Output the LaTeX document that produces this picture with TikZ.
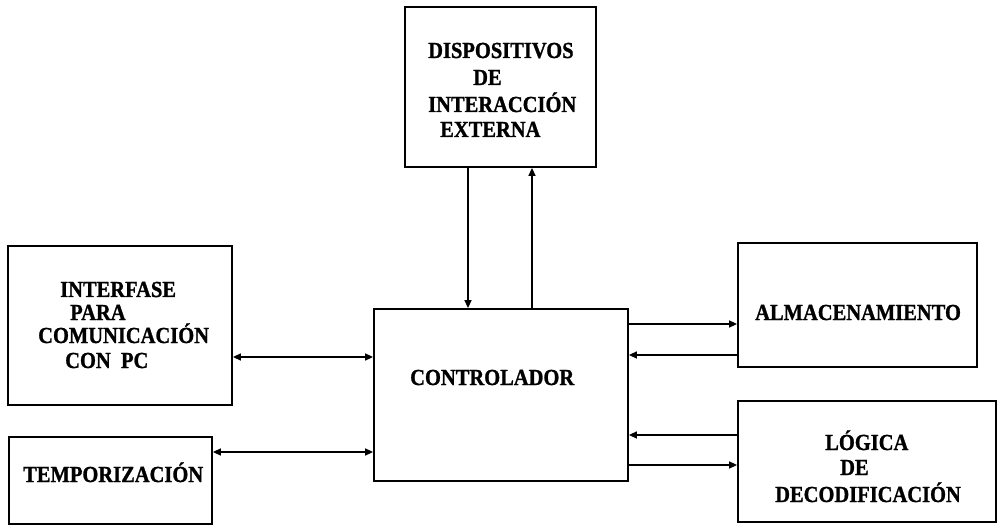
\documentclass[tikz,border=0pt]{standalone}
\usepackage{fontspec}
\setmainfont{Liberation Serif}
\newfontfamily\lblfont{Liberation Serif Bold}[FakeBold=1.2]
\usetikzlibrary{arrows.meta}
\tikzset{
  blk/.style={draw, line width=1.8pt, rectangle, inner sep=0pt},
  lbl/.style={anchor=base west, inner sep=0pt, font=\fontsize{20.5}{24}\selectfont\lblfont},
  conn/.style={line width=1.5pt, -{Triangle[length=8pt,width=7pt]}},
  dconn/.style={line width=1.5pt, {Triangle[length=8pt,width=7pt]}-{Triangle[length=8pt,width=7pt]}}
}
\newcommand{\tall}[1]{\scalebox{1}[1.12]{#1}}
\begin{document}
\begin{tikzpicture}[x=1pt,y=-1pt]
\useasboundingbox (0,0) rectangle (1000,526);
% boxes
\node[blk, minimum width=191pt, minimum height=160pt] (disp) at (500.5,87) {};
\node[blk, minimum width=224pt, minimum height=159pt] (interf) at (8+112,246+79.5) {};
\node[blk, minimum width=203pt, minimum height=87pt] (temp) at (9+101.5,437+43.5) {};
\node[blk, minimum width=254pt, minimum height=172pt] (ctrl) at (501,395) {};
\node[blk, minimum width=239pt, minimum height=124pt] (alm) at (738+119.5,243+62) {};
\node[blk, minimum width=258pt, minimum height=121pt] (logi) at (738+129,401+60.5) {};
% texts
\node[lbl] (t1a) at (428,58) {\tall{DISPOSITIVOS}};
\node[lbl] (t1b) at (473,85) {\tall{DE}};
\node[lbl] (t1c) at (428,112) {\tall{INTERACCIÓN}};
\node[lbl] (t1d) at (440,137) {\tall{EXTERNA}};
\node[lbl] (t2a) at (60,297) {\tall{INTERFASE}};
\node[lbl] (t2b) at (70,320) {\tall{PARA}};
\node[lbl] (t2c) at (38,343) {\tall{COMUNICACIÓN}};
\node[lbl] (t2d) at (65,368) {\tall{CON\ \ PC}};
\node[lbl] (t3) at (23,482) {\tall{TEMPORIZACIÓN}};
\node[lbl] (t4) at (410,385) {\tall{CONTROLADOR}};
\node[lbl] (t5) at (755,320) {\tall{ALMACENAMIENTO}};
\node[lbl] (t6a) at (825,450) {\tall{LÓGICA}};
\node[lbl] (t6b) at (840,475) {\tall{DE}};
\node[lbl] (t6c) at (775,502) {\tall{DECODIFICACIÓN}};
% connectors
\draw[conn] (disp.south -| 468,0) -- (ctrl.north -| 468,0);
\draw[conn] (ctrl.north -| 532,0) -- (disp.south -| 532,0);
\draw[dconn] (interf.east |- 0,357) -- (ctrl.west |- 0,357);
\draw[dconn] (temp.east |- 0,452) -- (ctrl.west |- 0,452);
\draw[conn] (ctrl.east |- 0,324) -- (alm.west |- 0,324);
\draw[conn] (alm.west |- 0,355) -- (ctrl.east |- 0,355);
\draw[conn] (logi.west |- 0,435) -- (ctrl.east |- 0,435);
\draw[conn] (ctrl.east |- 0,465) -- (logi.west |- 0,465);
\end{tikzpicture}
\end{document}
